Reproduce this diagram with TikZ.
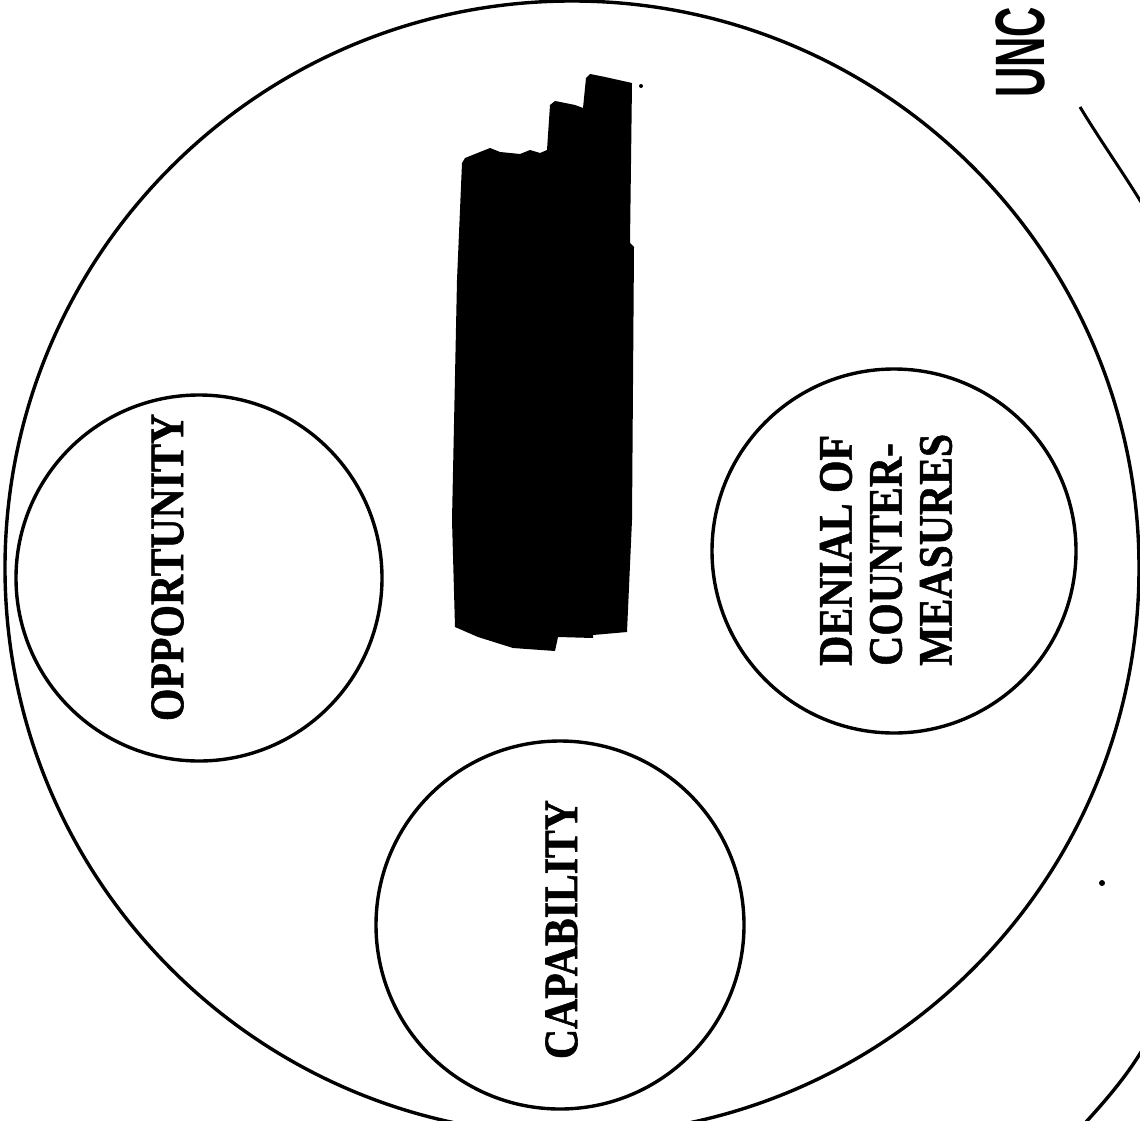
\documentclass[tikz,border=0pt]{standalone}
\usepackage{fontspec}
\setmainfont{Liberation Serif}[BoldFeatures={FakeBold=1.2}]
\setsansfont{Liberation Sans}
\begin{document}
\begin{tikzpicture}[x=1pt,y=-1pt,
  ring/.style={draw=black,line width=3.4pt},
  lbl/.style={font=\bfseries\fontsize{48}{50}\selectfont,inner sep=0pt,rotate=90,xscale=0.87},
  speck/.style={fill=black,draw=none}]
\path[use as bounding box,clip] (0,0) rectangle (1140,1121);
\fill[white] (0,0) rectangle (1140,1121);
% outer circle
\node[ring,circle,minimum size=1134pt,inner sep=0pt] (outer) at (572,568) {};
% inner circles
\node[ring,circle,minimum size=366pt,inner sep=0pt] (opp) at (199,578) {};
\node[ring,circle,minimum size=368pt,inner sep=0pt] (cap) at (560,925) {};
\node[ring,circle,minimum size=364pt,inner sep=0pt] (den) at (894,551) {};
% labels
\node[lbl] (oppt) at (167.5,567.5) {OPPORTUNITY};
\node[lbl] (capt) at (561.5,929.5) {CAPABILITY};
\node[lbl,anchor=west,align=left] (dent) at (886,666) {DENIAL OF\\COUNTER-\\MEASURES};
% redacted block
\fill[black] (465,158) -- (480,152) -- (490,148) -- (500,152) -- (520,154) -- (530,150)
  -- (540,153) -- (547,150) -- (550,105) -- (555,101) -- (575,105) -- (583,108)
  -- (586,78) -- (590,74) -- (605,77) -- (632,83) -- (630,243) -- (634,247)
  -- (632,520) -- (627,632) -- (593,635) -- (593,638) -- (558,637) -- (555,651)
  -- (513,648) -- (478,637) -- (455,627) -- (452,520) -- (457,280) -- (462,163) -- cycle;
% marking at top right
\node[font=\sffamily\bfseries\fontsize{70}{72}\selectfont,inner sep=0pt,rotate=90,xscale=0.6,anchor=west] (unc) at (1020,98) {UNC};
% neighbouring arcs
\coordinate (a1) at (1080,107);
\coordinate (a2) at (1141,202);
\draw[line width=3pt] (a1) .. controls (1100,140) and (1120,168) .. (a2);
\coordinate (b1) at (1141,1052);
\coordinate (b2) at (1086,1122);
\draw[line width=3.4pt] (b1) .. controls (1125,1078) and (1106,1100) .. (b2);
% specks
\fill[speck] (1102,883) circle (3pt);
\fill[speck] (641,86) circle (2pt);
\end{tikzpicture}
\end{document}
